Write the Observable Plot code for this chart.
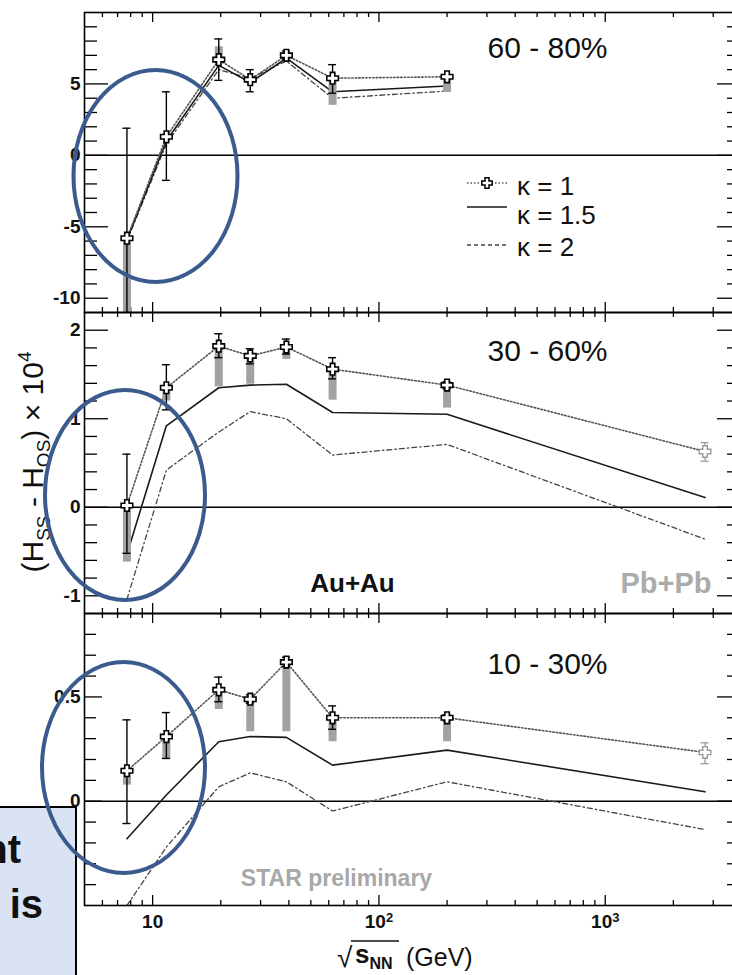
<!DOCTYPE html>
<html><head><meta charset="utf-8">
<script src="https://cdn.jsdelivr.net/npm/d3@7"></script>
<script src="https://cdn.jsdelivr.net/npm/@observablehq/plot@0.6"></script>
<style>
html,body{margin:0;padding:0;background:#fff;overflow:hidden;}
#wrap{position:relative;width:732px;height:975px;overflow:hidden;background:#fff;}
#wrap g[aria-label="y-axis tick label"], #wrap g[aria-label="x-axis tick label"]{font-size:19px;font-weight:bold;}
</style></head><body><div id="wrap"></div>
<script>
// ---------- data ----------
const energies = [7.7, 11.5, 19.6, 27, 39, 62.4, 200];
const pbEnergy = 2760;

// 60 - 80 %
const c6080_k1     = [-5.8, 1.3, 6.7, 5.3, 7.0, 5.4, 5.5];
const c6080_statLo = [-11.5, -1.75, 5.25, 4.45, 6.75, 4.35, 5.45];
const c6080_statHi = [1.9, 4.45, 8.15, 6.0, 7.3, 6.35, 5.55];
const c6080_sysLo  = [-11.5, 1.1, 6.4, 5.0, 6.8, 3.5, 4.4];
const c6080_sysHi  = [-5.8, 1.3, 7.6, 5.5, 7.1, 5.4, 5.5];
const c6080_k15    = [-5.9, 1.0, 6.3, 5.1, 6.8, 4.45, 4.85];
const c6080_k2     = [-6.0, 0.8, 6.0, 5.4, 6.6, 4.0, 4.5];

// 30 - 60 %
const c3060_k1     = [0.02, 1.35, 1.82, 1.71, 1.81, 1.56, 1.38];
const c3060_statLo = [-0.52, 1.10, 1.69, 1.62, 1.73, 1.45, 1.34];
const c3060_statHi = [0.6, 1.61, 1.96, 1.79, 1.90, 1.69, 1.42];
const c3060_sysLo  = [-0.62, 1.2, 1.36, 1.39, 1.67, 1.21, 1.12];
const c3060_sysHi  = [0.02, 1.35, 1.82, 1.71, 1.81, 1.56, 1.38];
const c3060_k15    = [-0.53, 0.92, 1.35, 1.38, 1.39, 1.07, 1.05];
const c3060_k2     = [-1.04, 0.42, 0.85, 1.08, 1.0, 0.59, 0.71];
const c3060_pb     = {k1: 0.63, lo: 0.52, hi: 0.73, k15: 0.11, k2: -0.36};

// 10 - 30 %
const c1030_k1     = [0.146, 0.31, 0.534, 0.489, 0.667, 0.40, 0.40];
const c1030_statLo = [-0.107, 0.205, 0.477, 0.47, 0.645, 0.345, 0.385];
const c1030_statHi = [0.39, 0.425, 0.595, 0.51, 0.69, 0.457, 0.415];
const c1030_sysLo  = [0.077, 0.20, 0.44, 0.333, 0.333, 0.285, 0.285];
const c1030_sysHi  = [0.16, 0.31, 0.534, 0.489, 0.667, 0.40, 0.40];
const c1030_k15    = [-0.18, 0.03, 0.285, 0.31, 0.306, 0.173, 0.245];
const c1030_k2     = [-0.5, -0.22, 0.069, 0.136, 0.093, -0.047, 0.093];
const c1030_pb     = {k1: 0.234, lo: 0.18, hi: 0.28, k15: 0.045, k2: -0.136};

// ticks
const xMajor = [10, 100, 1000];
const xMajorExp = ["", "2", "3"];
const xMinor = [6, 7, 8, 9, 20, 30, 40, 50, 60, 70, 80, 90, 200, 300, 400, 500, 600, 700, 800, 900, 2000, 3000];
const y6080Major = [-10, -5, 0, 5];
const y6080Minor = [-9, -8, -7, -6, -4, -3, -2, -1, 1, 2, 3, 4, 6, 7, 8, 9];
const y3060Major = [-1, 0, 1, 2];
const y3060Minor = [-0.8, -0.6, -0.4, -0.2, 0.2, 0.4, 0.6, 0.8, 1.2, 1.4, 1.6, 1.8];
const y1030Major = [0, 0.5];
const y1030Minor = [-0.4, -0.3, -0.2, -0.1, 0.1, 0.2, 0.3, 0.4, 0.6, 0.7, 0.8];

const legendLabels = ["κ = 1", "κ = 1.5", "κ = 2"];

// ---------- drawing ----------
const FONT = "Liberation Sans, Arial, Helvetica, sans-serif";
const xDomain = [5, 4000];
const W = 741;

const openCross = {
  draw(ctx, size) {
    const r = Math.sqrt(size / Math.PI), a = r / 2.6;
    ctx.moveTo(-a, -r); ctx.lineTo(a, -r); ctx.lineTo(a, -a); ctx.lineTo(r, -a);
    ctx.lineTo(r, a); ctx.lineTo(a, a); ctx.lineTo(a, r); ctx.lineTo(-a, r);
    ctx.lineTo(-a, a); ctx.lineTo(-r, a); ctx.lineTo(-r, -a); ctx.lineTo(-a, -a);
    ctx.closePath();
  }
};

const STY = {
  k1: {stroke: "#555", strokeWidth: 1.6, strokeDasharray: "1.5,2"},
  k15: {stroke: "#1a1a1a", strokeWidth: 1.6},
  k2: {stroke: "#444", strokeWidth: 1.3, strokeDasharray: "5,3,1.5,3"}
};

function tickMarks(yDom, yMaj, yMin, majLen, minLen) {
  const t = {stroke: "#000", strokeWidth: 1.3};
  return [
    Plot.ruleX(xMajor, {x: d => d, y1: yDom[1], y2: yDom[1], insetTop: 10, ...t}),
    Plot.ruleX(xMinor, {x: d => d, y1: yDom[1], y2: yDom[1], insetTop: 5, ...t}),
    Plot.ruleX(xMajor, {x: d => d, y1: yDom[0], y2: yDom[0], insetBottom: 10, ...t}),
    Plot.ruleX(xMinor, {x: d => d, y1: yDom[0], y2: yDom[0], insetBottom: 5, ...t}),
    Plot.ruleY(yMaj, {y: d => d, x1: xDomain[0], x2: xDomain[0], insetRight: -majLen, ...t}),
    Plot.ruleY(yMin, {y: d => d, x1: xDomain[0], x2: xDomain[0], insetRight: -minLen, ...t}),
    Plot.ruleY(yMaj, {y: d => d, x1: xDomain[1], x2: xDomain[1], insetLeft: -24, ...t}),
    Plot.ruleY(yMin, {y: d => d, x1: xDomain[1], x2: xDomain[1], insetLeft: -14, ...t})
  ];
}

function makePanel(cfg) {
  const rows = energies.map((e, i) => ({
    e, k1: cfg.k1[i], lo: cfg.statLo[i], hi: cfg.statHi[i],
    sLo: cfg.sysLo[i], sHi: cfg.sysHi[i], k15: cfg.k15[i], k2: cfg.k2[i]
  }));
  const pbRows = cfg.pb ? [{e: pbEnergy, ...cfg.pb}] : [];
  const all = rows.concat(pbRows);
  const marks = [
    ...tickMarks(cfg.yDomain, cfg.yMajor, cfg.yMinor, cfg.majLen, cfg.minLen),
    Plot.ruleY([0], {stroke: "#000", strokeWidth: 1.5}),
    Plot.line(all, {x: "e", y: "k2", ...STY.k2, clip: true}),
    Plot.line(all, {x: "e", y: "k15", ...STY.k15, clip: true}),
    Plot.line(all, {x: "e", y: "k1", ...STY.k1, clip: true}),
    Plot.ruleX(rows, {x: "e", y1: "sLo", y2: "sHi", stroke: "#a2a2a2", strokeWidth: 8, clip: true}),
    Plot.ruleX(rows, {x: "e", y1: "lo", y2: "hi", stroke: "#000", strokeWidth: 1.4, clip: true}),
    Plot.ruleY(rows, {y: "hi", x1: "e", x2: "e", insetLeft: -4, insetRight: -4, stroke: "#000", strokeWidth: 1.4, clip: true}),
    Plot.ruleY(rows, {y: "lo", x1: "e", x2: "e", insetLeft: -4, insetRight: -4, stroke: "#000", strokeWidth: 1.4, clip: true}),
    Plot.dot(rows, {x: "e", y: "k1", symbol: openCross, r: 5.8, fill: "#fff", stroke: "#000", strokeWidth: 1.6}),
    Plot.ruleX(pbRows, {x: "e", y1: "lo", y2: "hi", stroke: "#9a9a9a", strokeWidth: 1.3}),
    Plot.ruleY(pbRows, {y: "hi", x1: "e", x2: "e", insetLeft: -4, insetRight: -4, stroke: "#9a9a9a", strokeWidth: 1.3}),
    Plot.ruleY(pbRows, {y: "lo", x1: "e", x2: "e", insetLeft: -4, insetRight: -4, stroke: "#9a9a9a", strokeWidth: 1.3}),
    Plot.dot(pbRows, {x: "e", y: "k1", symbol: openCross, r: 5.8, fill: "#fff", stroke: "#9a9a9a", strokeWidth: 1.4}),
    Plot.frame({stroke: "#000", strokeWidth: 1.6}),
    Plot.axisY(cfg.yLabels, {anchor: "left", tickSize: 0, tickPadding: 4, tickFormat: d => String(d), fontSize: 19, fontWeight: "bold", label: null}),
    Plot.text([cfg.title], {text: d => d, frameAnchor: "top-left", dx: 463, dy: cfg.titleDy, textAnchor: "middle", lineAnchor: "middle", fontSize: 30, fill: "#111"}),
    ...(cfg.extra || [])
  ];
  const p = Plot.plot({
    width: W, height: cfg.height,
    marginLeft: 84, marginRight: 0, marginTop: cfg.marginTop, marginBottom: cfg.marginBottom,
    x: {type: "log", domain: xDomain, ...(cfg.xAxis ? {} : {axis: null})},
    y: {domain: cfg.yDomain},
    style: `position:absolute;left:0;top:${cfg.top}px;max-width:none;background:transparent;overflow:visible;font-family:${FONT};font-size:19px;color:#111;`,
    marks
  });
  document.getElementById("wrap").appendChild(p);
  return p;
}

makePanel({
  title: "60 - 80%", titleDy: 35.5,
  k1: c6080_k1, statLo: c6080_statLo, statHi: c6080_statHi, sysLo: c6080_sysLo, sysHi: c6080_sysHi,
  k15: c6080_k15, k2: c6080_k2, pb: null,
  yDomain: [-11, 10], yMajor: y6080Major, yMinor: y6080Minor, yLabels: y6080Major, majLen: 24, minLen: 13,
  top: 0, height: 313, marginTop: 12, marginBottom: 1
});

makePanel({
  title: "30 - 60%", titleDy: 39,
  k1: c3060_k1, statLo: c3060_statLo, statHi: c3060_statHi, sysLo: c3060_sysLo, sysHi: c3060_sysHi,
  k15: c3060_k15, k2: c3060_k2, pb: c3060_pb,
  yDomain: [-1.2, 2.2], yMajor: y3060Major, yMinor: y3060Minor, yLabels: y3060Major, majLen: 24, minLen: 13,
  top: 300, height: 314, marginTop: 12, marginBottom: 1,
  extra: [
    Plot.text(["Au+Au"], {text: d => d, frameAnchor: "top-left", dx: 268, dy: 271, textAnchor: "middle", lineAnchor: "middle", fontSize: 26, fontWeight: "bold", fill: "#111"}),
    Plot.text(["Pb+Pb"], {text: d => d, frameAnchor: "top-left", dx: 581.5, dy: 271, textAnchor: "middle", lineAnchor: "middle", fontSize: 29, fontWeight: "bold", fill: "#ababab"})
  ]
});

const bottomPlot = makePanel({
  title: "10 - 30%", titleDy: 50.5,
  k1: c1030_k1, statLo: c1030_statLo, statHi: c1030_statHi, sysLo: c1030_sysLo, sysHi: c1030_sysHi,
  k15: c1030_k15, k2: c1030_k2, pb: c1030_pb,
  yDomain: [-0.5, 0.9], yMajor: y1030Major, yMinor: y1030Minor, yLabels: y1030Major, majLen: 18, minLen: 12,
  top: 600, height: 375, marginTop: 13, marginBottom: 70, xAxis: true,
  extra: [
    Plot.text(["STAR preliminary"], {text: d => d, frameAnchor: "top-left", dx: 252, dy: 265.5, textAnchor: "middle", lineAnchor: "middle", fontSize: 23, fontWeight: "bold", fill: "#a8a8a8"}),
    Plot.axisX(xMajor, {anchor: "bottom", tickSize: 0, tickPadding: 9, tickFormat: d => "10", fontSize: 19, fontWeight: "bold", label: null})
  ]
});

// superscript exponents on x tick labels (10, 10^2, 10^3)
d3.select(bottomPlot).selectAll('g[aria-label="x-axis tick label"] text').each(function(d, i) {
  const exp = xMajorExp[i];
  if (exp) {
    d3.select(this).append("tspan").attr("dy", "-0.45em").attr("font-size", 13).text(exp);
  }
});

// ---------- overlay: titles, legend, annotations ----------
const ov = d3.select("#wrap").append("svg")
  .attr("width", 732).attr("height", 975)
  .style("position", "absolute").style("left", 0).style("top", 0)
  .style("font-family", FONT);

// y title
const yt = ov.append("text")
  .attr("transform", "translate(43,462) rotate(-90)")
  .attr("text-anchor", "middle").attr("font-size", 30).attr("fill", "#111");
yt.append("tspan").text("(H");
yt.append("tspan").attr("font-size", 19).attr("dy", 7).text("SS");
yt.append("tspan").attr("dy", -7).text(" - H");
yt.append("tspan").attr("font-size", 19).attr("dy", 7).text("OS");
yt.append("tspan").attr("dy", -7).text(") × 10");
yt.append("tspan").attr("font-size", 19).attr("dy", -12).text("4");

// x title
ov.append("text").attr("x", 337).attr("y", 967).attr("font-size", 28).attr("fill", "#111").text("√");
const xt = ov.append("text").attr("x", 355).attr("y", 963).attr("font-size", 26).attr("font-weight", "bold").attr("fill", "#111");
xt.append("tspan").text("s");
xt.append("tspan").attr("font-size", 16).attr("dy", 6).text("NN");
ov.append("line").attr("x1", 351).attr("x2", 399).attr("y1", 941).attr("y2", 941).attr("stroke", "#111").attr("stroke-width", 1.6);
ov.append("text").attr("x", 406).attr("y", 966).attr("font-size", 25).attr("fill", "#111").text("(GeV)");

// legend
const legLineY = [183, 207, 245];
const legTextY = [186, 215, 247];
const legStyles = [STY.k1, STY.k15, {stroke: "#444", strokeWidth: 1.3, strokeDasharray: "4,3"}];
legendLabels.forEach((lab, i) => {
  const s = legStyles[i];
  ov.append("line").attr("x1", 467).attr("x2", 507).attr("y1", legLineY[i]).attr("y2", legLineY[i])
    .attr("stroke", s.stroke).attr("stroke-width", s.strokeWidth).attr("stroke-dasharray", s.strokeDasharray || null);
  if (i === 0) {
    ov.append("path").attr("transform", `translate(487,${legLineY[i]})`)
      .attr("d", d3.symbol(openCross, 5.2 * 5.2 * Math.PI)())
      .attr("fill", "#fff").attr("stroke", "#000").attr("stroke-width", 1.5);
  }
  ov.append("text").attr("x", 517).attr("y", legTextY[i]).attr("dy", "0.35em")
    .attr("font-size", 26).attr("fill", "#111").text(lab);
});

// cropped slide box
ov.append("rect").attr("x", -3).attr("y", 807).attr("width", 79).attr("height", 200)
  .attr("fill", "#dae3f3").attr("stroke", "#000").attr("stroke-width", 2);
ov.append("text").attr("x", 21).attr("y", 863).attr("text-anchor", "end")
  .attr("font-family", "Liberation Sans Narrow, Liberation Sans, Arial, sans-serif")
  .attr("font-size", 40).attr("font-weight", "bold").attr("fill", "#111").text("nt");
ov.append("text").attr("x", 43).attr("y", 918).attr("text-anchor", "end")
  .attr("font-family", "Liberation Sans Narrow, Liberation Sans, Arial, sans-serif")
  .attr("font-size", 40).attr("font-weight", "bold").attr("fill", "#111").text("s is");

// ellipses
const ellipses = [
  {cx: 155.5, cy: 176, rx: 82, ry: 106},
  {cx: 125, cy: 495, rx: 80, ry: 105},
  {cx: 123.5, cy: 767.5, rx: 81.5, ry: 105.5}
];
ellipses.forEach(e => {
  ov.append("ellipse").attr("cx", e.cx).attr("cy", e.cy).attr("rx", e.rx).attr("ry", e.ry)
    .attr("fill", "none").attr("stroke", "#3b5b8e").attr("stroke-width", 4);
});
</script>
</body></html>
